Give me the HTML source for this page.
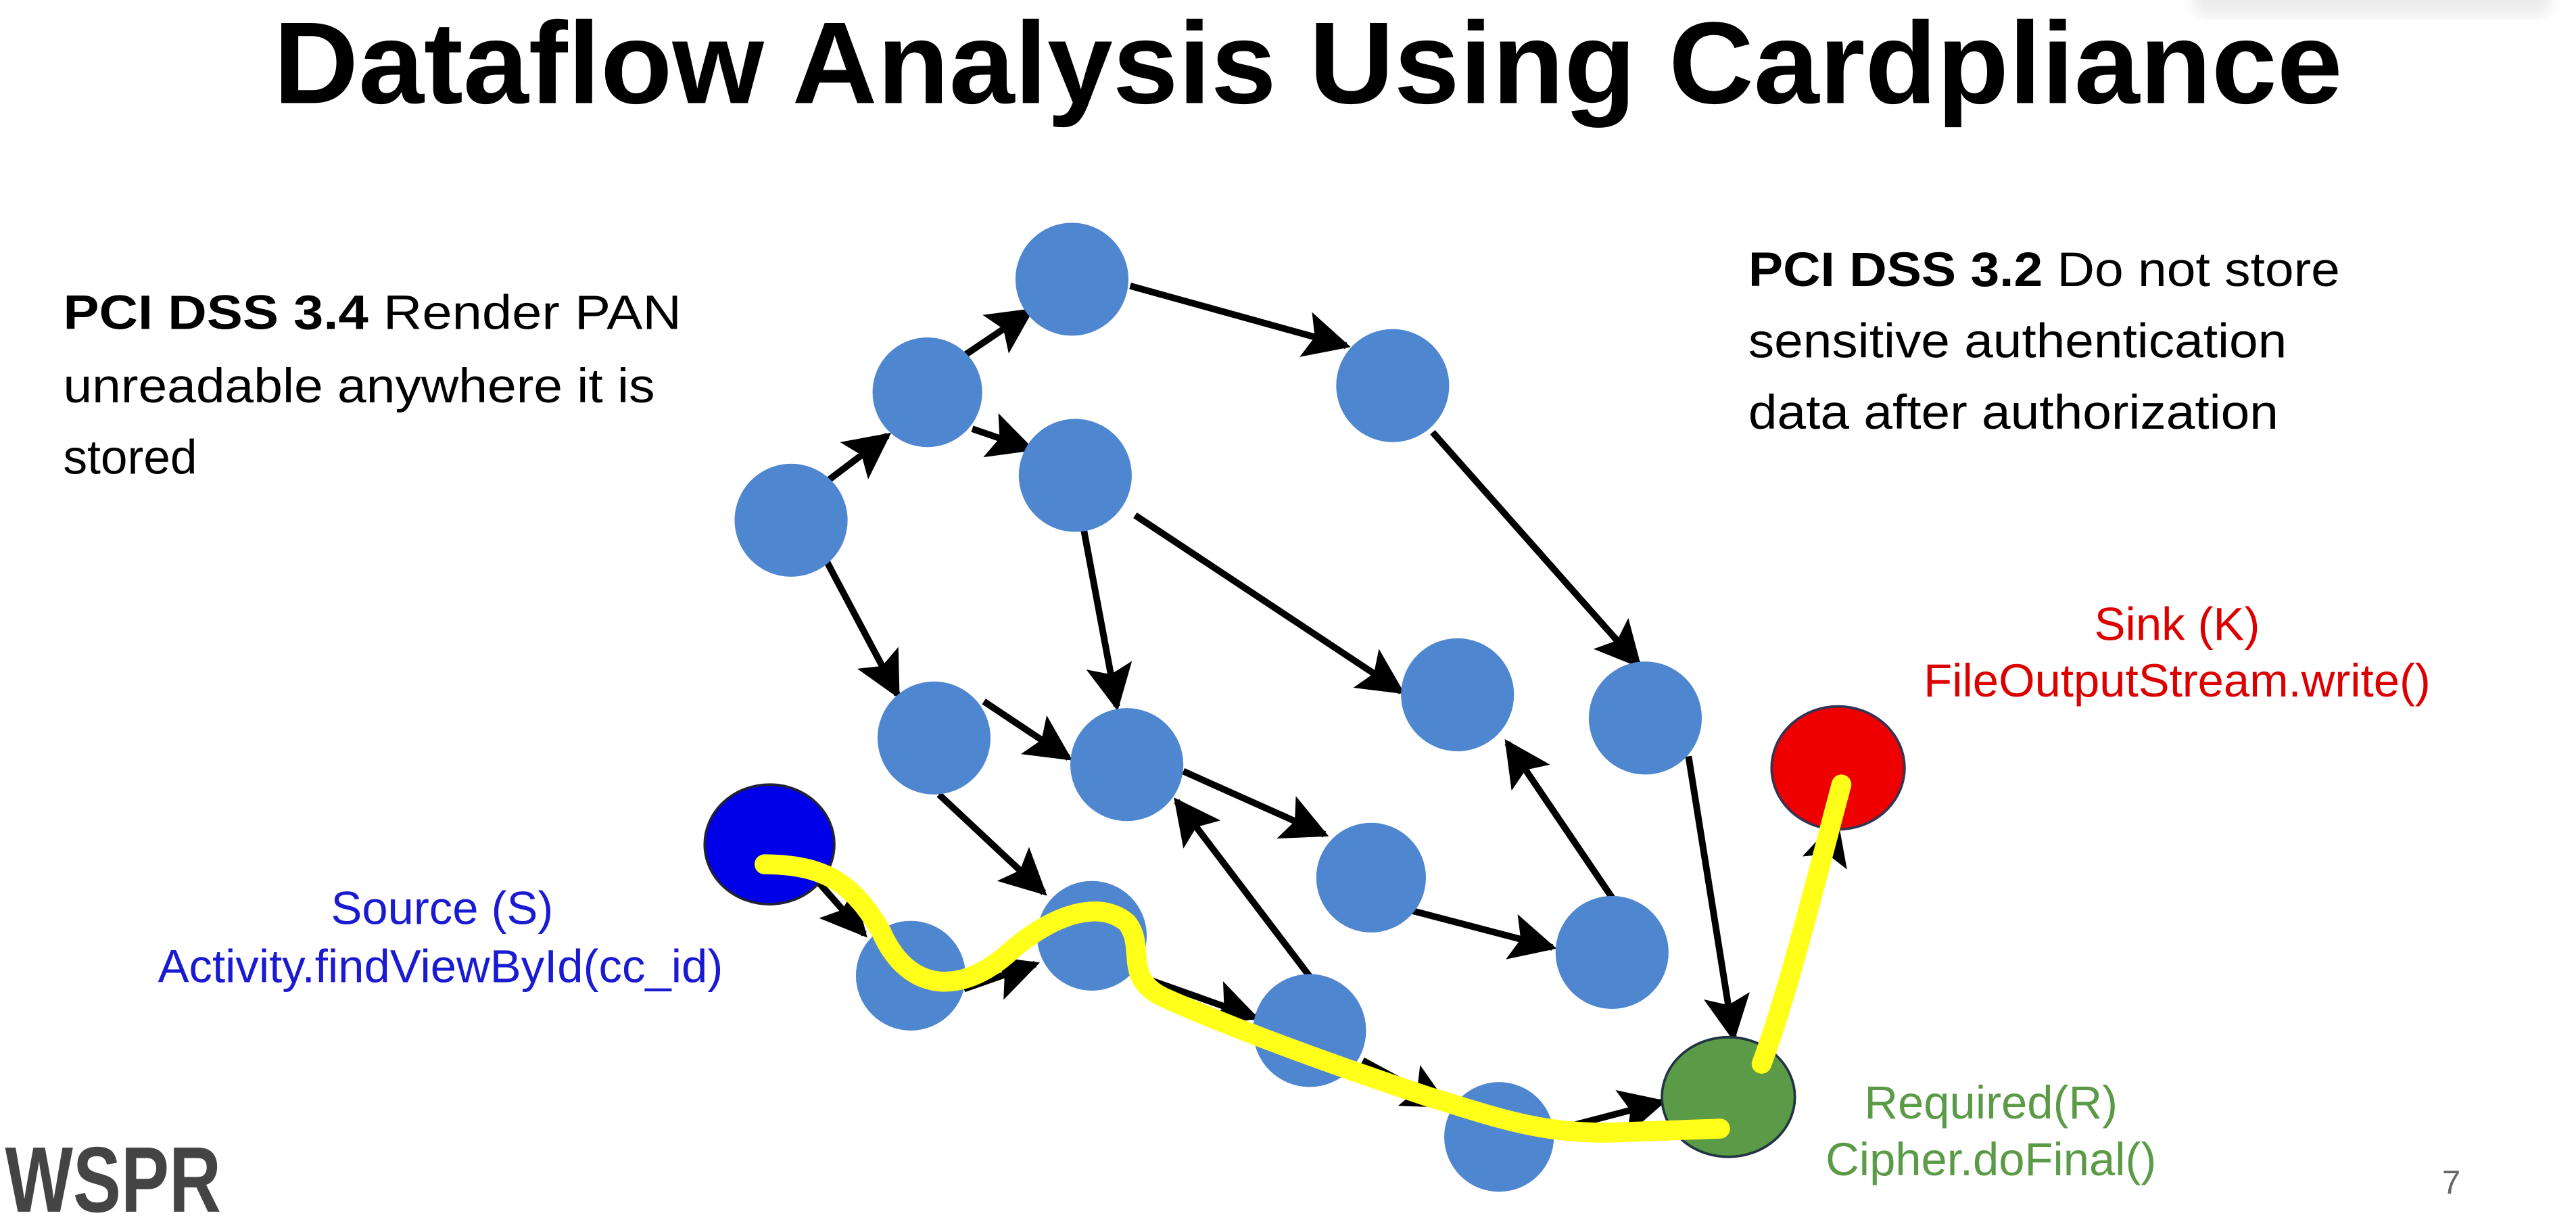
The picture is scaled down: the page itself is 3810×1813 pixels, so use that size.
<!DOCTYPE html>
<html><head><meta charset="utf-8"><style>
html,body{margin:0;padding:0;background:#fff;}
svg{display:block;}
text{font-family:"Liberation Sans",Arial,sans-serif;}
</style></head><body>
<svg width="3810" height="1813" viewBox="0 0 1550 737.6" xmlns="http://www.w3.org/2000/svg">
<defs>
<marker id="ah" viewBox="0 0 10 10" refX="9" refY="5" markerWidth="7" markerHeight="7" orient="auto">
<path d="M0,0 L10,5 L0,10 L2,5 z" fill="#000"/>
</marker>
<filter id="blur"><feGaussianBlur stdDeviation="4"/></filter>
</defs>
<rect width="1550" height="737.6" fill="#fff"/>
<rect x="1320" y="-10" width="215" height="20" rx="8" fill="#ececec" filter="url(#blur)"/>

<text x="787" y="62" text-anchor="middle" font-size="70" font-weight="bold" fill="#000" textLength="1245" lengthAdjust="spacingAndGlyphs">Dataflow Analysis Using Cardpliance</text>

<g font-size="29" fill="#000">
<text x="38" y="198" textLength="372" lengthAdjust="spacingAndGlyphs"><tspan font-weight="bold">PCI DSS 3.4</tspan> Render PAN</text>
<text x="38" y="242" textLength="356" lengthAdjust="spacingAndGlyphs">unreadable anywhere it is</text>
<text x="38" y="285">stored</text>
<text x="1052" y="172" textLength="356" lengthAdjust="spacingAndGlyphs"><tspan font-weight="bold">PCI DSS 3.2</tspan> Do not store</text>
<text x="1052" y="215" textLength="324" lengthAdjust="spacingAndGlyphs">sensitive authentication</text>
<text x="1052" y="258" textLength="319" lengthAdjust="spacingAndGlyphs">data after authorization</text>
</g>

<g stroke="#000" stroke-width="4" fill="none" marker-end="url(#ah)">
<line x1="497" y1="290" x2="534" y2="262"/>
<line x1="580" y1="214" x2="620" y2="187"/>
<line x1="585" y1="258" x2="620" y2="270"/>
<line x1="680" y1="172" x2="810" y2="208"/>
<line x1="497" y1="337" x2="540" y2="418"/>
<line x1="652" y1="318" x2="672" y2="425"/>
<line x1="683" y1="310" x2="843" y2="416"/>
<line x1="862" y1="260" x2="986" y2="400"/>
<line x1="592" y1="422" x2="643" y2="456"/>
<line x1="565" y1="478" x2="628" y2="537"/>
<line x1="712" y1="464" x2="797" y2="502"/>
<line x1="850" y1="548" x2="934" y2="570"/>
<line x1="972" y1="543" x2="907" y2="447"/>
<line x1="790" y1="590" x2="708" y2="482"/>
<line x1="1016" y1="455" x2="1043" y2="624"/>
<line x1="1065" y1="632" x2="1105" y2="495"/>
<line x1="490" y1="528" x2="520" y2="562"/>
<line x1="693" y1="590" x2="755" y2="612"/>
<line x1="820" y1="638" x2="870" y2="665"/>
<line x1="935" y1="680" x2="1000" y2="663"/>
<line x1="580" y1="595" x2="623" y2="580"/>
</g>

<g fill="#4f86d0">
<circle cx="476" cy="313" r="34"/>
<circle cx="558" cy="236" r="33"/>
<circle cx="645" cy="168" r="34"/>
<circle cx="647" cy="286" r="34"/>
<circle cx="838" cy="232" r="34"/>
<circle cx="562" cy="444" r="34"/>
<circle cx="678" cy="460" r="34"/>
<circle cx="877" cy="418" r="34"/>
<circle cx="990" cy="432" r="34"/>
<circle cx="825" cy="528" r="33"/>
<circle cx="970" cy="573" r="34"/>
<circle cx="548" cy="587" r="33"/>
<circle cx="657" cy="563" r="33"/>
<circle cx="788" cy="620" r="34"/>
<circle cx="902" cy="684" r="33"/>
</g>
<ellipse cx="463" cy="508" rx="39" ry="36" fill="#0000e8" stroke="#223" stroke-width="1.5"/>
<ellipse cx="1106" cy="462" rx="40" ry="37" fill="#ee0000" stroke="#335" stroke-width="1.5"/>
<ellipse cx="1040" cy="660" rx="40" ry="36" fill="#5b9a46" stroke="#234" stroke-width="1.5"/>

<path d="M460,520 C500,520 515,535 530,560 C545,595 575,600 605,575 C630,552 660,540 678,555 C690,570 675,588 700,600 C740,618 800,640 860,660 C900,672 930,684 980,681 L1035,679" stroke="#ffff1a" stroke-width="12" fill="none" stroke-linecap="round" stroke-linejoin="round"/>
<path d="M1060,640 C1075,600 1090,540 1108,472" stroke="#ffff1a" stroke-width="12" fill="none" stroke-linecap="round"/>

<g font-size="28" text-anchor="middle">
<text x="266" y="556" fill="#1a1ad0">Source (S)</text>
<text x="265" y="591" fill="#1a1ad0" textLength="340" lengthAdjust="spacingAndGlyphs">Activity.findViewById(cc_id)</text>
<text x="1310" y="385" fill="#dd0000">Sink (K)</text>
<text x="1310" y="419" fill="#dd0000" textLength="305" lengthAdjust="spacingAndGlyphs">FileOutputStream.write()</text>
<text x="1198" y="673" fill="#5b9a46">Required(R)</text>
<text x="1198" y="707" fill="#5b9a46" textLength="199" lengthAdjust="spacingAndGlyphs">Cipher.doFinal()</text>
</g>
<text x="1475" y="718" font-size="20" fill="#666" text-anchor="middle">7</text>
<text x="3" y="729" font-size="56" font-weight="bold" fill="#444" textLength="130" lengthAdjust="spacingAndGlyphs">WSPR</text>
</svg>
</body></html>
